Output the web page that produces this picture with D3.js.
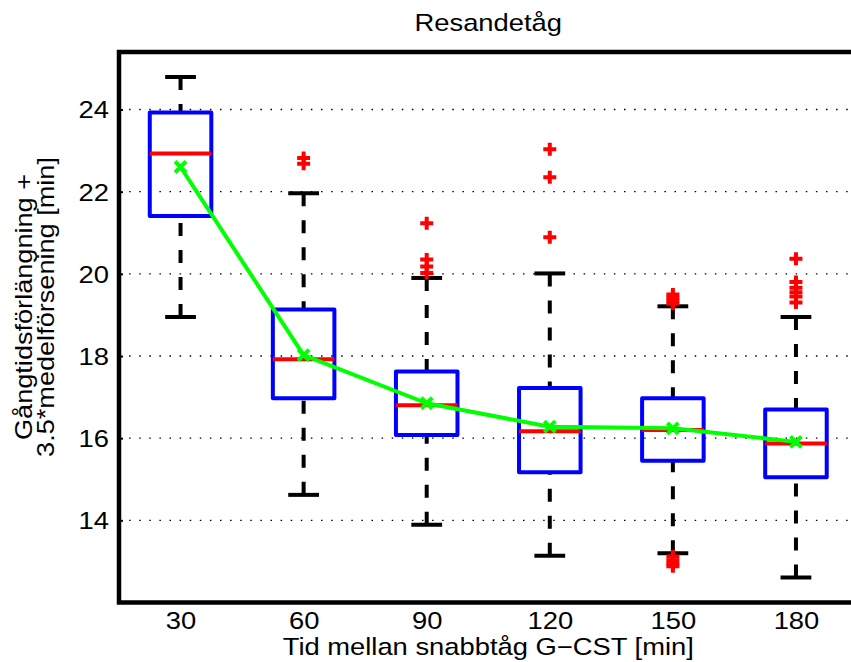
<!DOCTYPE html>
<html>
<head>
<meta charset="utf-8">
<script src="https://cdn.jsdelivr.net/npm/d3@7"></script>
<style>
  html, body { margin: 0; padding: 0; background: #fff; }
  svg { display: block; font-family: "Liberation Sans", Arial, Helvetica, sans-serif; }
</style>
</head>
<body>
<svg id="chart" width="851" height="662"></svg>
<script>
// ---- data ----
const categories   = [30, 60, 90, 120, 150, 180];
const whiskerLow   = [18.95, 14.62, 13.89, 13.14, 13.20, 12.61];
const q1           = [21.41, 16.97, 16.08, 15.17, 15.45, 15.05];
const medians      = [22.93, 17.92, 16.80, 16.17, 16.20, 15.87];
const q3           = [23.93, 19.13, 17.62, 17.22, 16.97, 16.70];
const whiskerHigh  = [24.79, 21.96, 19.90, 20.01, 19.21, 18.95];
const means        = [22.60, 18.02, 16.85, 16.28, 16.24, 15.91];
const outliers     = [
  [],
  [22.82, 22.68],
  [21.23, 20.35, 20.18, 20.02],
  [23.03, 22.35, 20.89],
  [19.50, 19.42, 19.34, 19.27, 13.12, 13.03, 12.95, 12.88],
  [20.37, 19.80, 19.66, 19.55, 19.45, 19.30]
];
const yTicks = [14, 16, 18, 20, 22, 24];
const titleText = "Resandetåg";
const xLabelText = "Tid mellan snabbtåg G\u2212CST [min]";
const yLabelLines = ["Gångtidsförlängning +", "3.5*medelförsening [min]"];

// ---- layout ----
const svg = d3.select("#chart");
const x = d3.scaleLinear().domain([15, 195]).range([119, 857.5]);
const y = d3.scaleLinear().domain([12, 25.4]).range([602.5, 52]);
const boxW = 15, capW = 7.5;
const FS = 24, SX = 1.14;

svg.append("defs").append("clipPath").attr("id", "plotclip")
  .append("rect").attr("x", x(15)).attr("y", y(25.4)).attr("width", x(195) - x(15)).attr("height", y(12) - y(25.4));

// grid lines (dotted)
svg.append("g").selectAll("line").data(yTicks).join("line")
  .attr("x1", x(15)).attr("x2", x(195))
  .attr("y1", d => y(d)).attr("y2", d => y(d))
  .attr("stroke", "#000").attr("stroke-width", 1.3)
  .attr("stroke-dasharray", "1.5,8.6");

const plot = svg.append("g").attr("clip-path", "url(#plotclip)");

const boxes = plot.selectAll("g.box").data(categories.map((c, i) => ({c, i}))).join("g").attr("class", "box");

// whiskers (dashed), from cap toward box
boxes.append("line")
  .attr("x1", d => x(d.c)).attr("x2", d => x(d.c))
  .attr("y1", d => y(whiskerHigh[d.i])).attr("y2", d => y(q3[d.i]))
  .attr("stroke", "#000").attr("stroke-width", 4).attr("stroke-dasharray", "13,14");
boxes.append("line")
  .attr("x1", d => x(d.c)).attr("x2", d => x(d.c))
  .attr("y1", d => y(whiskerLow[d.i])).attr("y2", d => y(q1[d.i]))
  .attr("stroke", "#000").attr("stroke-width", 4).attr("stroke-dasharray", "13,14");
// caps
boxes.append("line")
  .attr("x1", d => x(d.c - capW / 2)).attr("x2", d => x(d.c + capW / 2))
  .attr("y1", d => y(whiskerHigh[d.i])).attr("y2", d => y(whiskerHigh[d.i]))
  .attr("stroke", "#000").attr("stroke-width", 4);
boxes.append("line")
  .attr("x1", d => x(d.c - capW / 2)).attr("x2", d => x(d.c + capW / 2))
  .attr("y1", d => y(whiskerLow[d.i])).attr("y2", d => y(whiskerLow[d.i]))
  .attr("stroke", "#000").attr("stroke-width", 4);
// box
boxes.append("rect")
  .attr("x", d => x(d.c - boxW / 2)).attr("width", d => x(d.c + boxW / 2) - x(d.c - boxW / 2))
  .attr("y", d => y(q3[d.i])).attr("height", d => y(q1[d.i]) - y(q3[d.i]))
  .attr("fill", "none").attr("stroke", "#0000ff").attr("stroke-width", 4)
  .attr("stroke-linejoin", "round");
// median
boxes.append("line")
  .attr("x1", d => x(d.c - boxW / 2)).attr("x2", d => x(d.c + boxW / 2))
  .attr("y1", d => y(medians[d.i])).attr("y2", d => y(medians[d.i]))
  .attr("stroke", "#ff0000").attr("stroke-width", 4);
// outliers (+)
const pts = [];
categories.forEach((c, i) => outliers[i].forEach(v => pts.push({c, v})));
const ps = 6.5;
plot.append("g").selectAll("path").data(pts).join("path")
  .attr("d", d => {
    const px = x(d.c), py = y(d.v);
    return `M${px - ps},${py}H${px + ps}M${px},${py - ps}V${py + ps}`;
  })
  .attr("stroke", "#ff0000").attr("stroke-width", 4).attr("fill", "none");

// mean line
const line = d3.line().x((d, i) => x(categories[i])).y(d => y(d));
plot.append("path").datum(means).attr("d", line)
  .attr("fill", "none").attr("stroke", "#00ff00").attr("stroke-width", 4)
  .attr("stroke-linejoin", "round");
const ms = 5.5;
plot.append("g").selectAll("path").data(means).join("path")
  .attr("d", (d, i) => {
    const px = x(categories[i]), py = y(d);
    return `M${px - ms},${py - ms}L${px + ms},${py + ms}M${px - ms},${py + ms}L${px + ms},${py - ms}`;
  })
  .attr("stroke", "#00ff00").attr("stroke-width", 4).attr("fill", "none");

// axes border
svg.append("rect")
  .attr("x", x(15)).attr("y", y(25.4))
  .attr("width", x(195) - x(15)).attr("height", y(12) - y(25.4))
  .attr("fill", "none").attr("stroke", "#000").attr("stroke-width", 4.5);

// y axis ticks via d3 axis (inward)
const yAxis = d3.axisLeft(y).tickValues(yTicks).tickSize(-4).tickPadding(10).tickFormat(d3.format("d"));
const ya = svg.append("g").attr("transform", `translate(${x(15)},0)`).call(yAxis);
ya.select(".domain").remove();
ya.selectAll(".tick line").attr("stroke", "#000").attr("stroke-width", 2);
ya.selectAll(".tick text").attr("font-size", FS).attr("fill", "#000")
  .attr("font-family", "'Liberation Sans', Arial, sans-serif")
  .attr("x", 0).attr("dy", "0.35em")
  .attr("transform", `translate(-10,0) scale(${SX},1)`);

// x tick labels
const xAxis = d3.axisBottom(x).tickValues(categories).tickSize(0).tickPadding(9).tickFormat(d3.format("d"));
const xa = svg.append("g").attr("transform", `translate(0,${y(12)})`).call(xAxis);
xa.select(".domain").remove();
xa.selectAll(".tick text").attr("font-size", FS).attr("fill", "#000")
  .attr("font-family", "'Liberation Sans', Arial, sans-serif")
  .attr("y", 0).attr("transform", `translate(0,9) scale(${SX},1)`);

// title
const cx = (x(15) + x(195)) / 2;
svg.append("text").attr("transform", `translate(${cx},31) scale(${SX},1)`)
  .attr("text-anchor", "middle").attr("font-size", FS).text(titleText);
// x label
svg.append("text").attr("transform", `translate(${cx},655) scale(${SX},1)`)
  .attr("text-anchor", "middle").attr("font-size", FS).text(xLabelText);
// y label
const yl = svg.append("text").attr("transform", `translate(32,307) rotate(-90) scale(1.13,1)`)
  .attr("text-anchor", "middle").attr("font-size", FS);
yLabelLines.forEach((t, i) => yl.append("tspan").attr("x", 0).attr("dy", i === 0 ? 0 : 22).text(t));
</script>
</body>
</html>
